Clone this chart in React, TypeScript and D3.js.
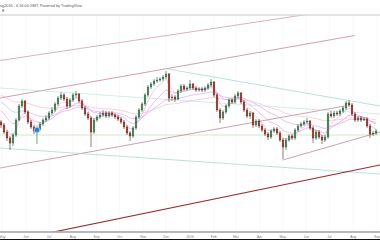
import React from 'react';
import * as d3 from 'd3';

const W = 380;
const H = 240;

// ---- data ----
const FIRST_OPEN = 1.078;
const CLOSE = [
  1.075, 1.068, 1.062, 1.057, 1.065, 1.080, 1.094, 1.099, 1.088, 1.078,
  1.073, 1.069, 1.071, 1.076, 1.080, 1.082, 1.087, 1.090, 1.096, 1.102,
  1.105, 1.101, 1.094, 1.100, 1.105, 1.106, 1.099, 1.092, 1.086, 1.082,
  1.068, 1.080, 1.083, 1.085, 1.087, 1.084, 1.087, 1.085, 1.083, 1.081,
  1.078, 1.073, 1.067, 1.064, 1.072, 1.083, 1.090, 1.096, 1.105, 1.113,
  1.116, 1.119, 1.120, 1.121, 1.123, 1.126, 1.102, 1.103, 1.101, 1.109,
  1.114, 1.111, 1.112, 1.116, 1.112, 1.110, 1.111, 1.110, 1.112, 1.115,
  1.118, 1.105, 1.090, 1.082, 1.088, 1.094, 1.100, 1.098, 1.104, 1.107,
  1.098, 1.090, 1.084, 1.087, 1.075, 1.079, 1.074, 1.070, 1.066, 1.063,
  1.069, 1.071, 1.067, 1.060, 1.053, 1.060, 1.064, 1.062, 1.070, 1.074,
  1.076, 1.078, 1.079, 1.072, 1.062, 1.068, 1.063, 1.060, 1.063, 1.086,
  1.084, 1.087, 1.086, 1.089, 1.092, 1.097, 1.095, 1.086, 1.080, 1.082,
  1.080, 1.081, 1.074, 1.066, 1.067, 1.069,
];
const HIGH = [
  1.080, 1.077, 1.070, 1.064, 1.067, 1.082, 1.096, 1.101, 1.100, 1.090,
  1.080, 1.075, 1.074, 1.078, 1.082, 1.085, 1.089, 1.093, 1.098, 1.104,
  1.108, 1.107, 1.103, 1.102, 1.107, 1.109, 1.107, 1.101, 1.094, 1.088,
  1.084, 1.082, 1.085, 1.088, 1.090, 1.089, 1.089, 1.089, 1.087, 1.085,
  1.083, 1.080, 1.075, 1.069, 1.074, 1.085, 1.092, 1.098, 1.107, 1.115,
  1.118, 1.121, 1.123, 1.123, 1.125, 1.129, 1.127, 1.106, 1.105, 1.111,
  1.116, 1.116, 1.114, 1.120, 1.117, 1.114, 1.113, 1.113, 1.114, 1.117,
  1.121, 1.119, 1.107, 1.092, 1.090, 1.096, 1.102, 1.102, 1.106, 1.109,
  1.108, 1.100, 1.092, 1.089, 1.088, 1.081, 1.081, 1.076, 1.072, 1.068,
  1.071, 1.073, 1.073, 1.069, 1.062, 1.062, 1.066, 1.066, 1.072, 1.076,
  1.078, 1.080, 1.082, 1.080, 1.074, 1.070, 1.070, 1.065, 1.065, 1.088,
  1.089, 1.089, 1.089, 1.091, 1.094, 1.099, 1.100, 1.097, 1.088, 1.084,
  1.084, 1.083, 1.083, 1.076, 1.069, 1.071,
];
const LOW = [
  1.072, 1.066, 1.059, 1.050, 1.054, 1.063, 1.079, 1.092, 1.086, 1.076,
  1.071, 1.066, 1.056, 1.069, 1.074, 1.078, 1.080, 1.085, 1.088, 1.094,
  1.100, 1.099, 1.091, 1.092, 1.098, 1.102, 1.097, 1.090, 1.084, 1.080,
  1.053, 1.066, 1.078, 1.081, 1.083, 1.082, 1.082, 1.083, 1.081, 1.079,
  1.076, 1.071, 1.065, 1.059, 1.062, 1.070, 1.081, 1.088, 1.094, 1.103,
  1.111, 1.114, 1.117, 1.118, 1.119, 1.121, 1.098, 1.099, 1.098, 1.100,
  1.107, 1.109, 1.109, 1.110, 1.110, 1.108, 1.108, 1.108, 1.108, 1.110,
  1.113, 1.103, 1.088, 1.077, 1.080, 1.086, 1.092, 1.096, 1.096, 1.102,
  1.096, 1.088, 1.082, 1.081, 1.072, 1.073, 1.072, 1.068, 1.064, 1.060,
  1.061, 1.067, 1.065, 1.058, 1.041, 1.050, 1.058, 1.060, 1.060, 1.068,
  1.072, 1.074, 1.076, 1.070, 1.057, 1.060, 1.061, 1.056, 1.058, 1.061,
  1.082, 1.082, 1.084, 1.084, 1.087, 1.090, 1.093, 1.084, 1.078, 1.078,
  1.078, 1.079, 1.072, 1.062, 1.064, 1.065,
];

const START_DATE = '2015-04-28';
const END_DATE = '2016-09-05';
const CANDLE_OFFSET_DAYS = 1.3;
const CANDLE_STEP_DAYS = 3.916;

const MONTH_TICKS = [
  '2015-05-01', '2015-06-01', '2015-07-01', '2015-08-01', '2015-09-01', '2015-10-01',
  '2015-11-01', '2015-12-01', '2016-01-01', '2016-02-01', '2016-03-01', '2016-04-01',
  '2016-05-01', '2016-06-01', '2016-07-01', '2016-08-01', '2016-09-01',
];
const MONTH_LABELS = [
  'May', 'Jun', 'Jul', 'Aug', 'Sep', 'Oct', 'Nov', 'Dec', '2016',
  'Feb', 'Mar', 'Apr', 'May', 'Jun', 'Jul', 'Aug', 'Sep',
];

// trend lines: [date, price] anchors
const CHANNEL_TOP = [['2015-04-28', 1.1395], ['2016-09-05', 1.1965]];
const CHANNEL_MID = [['2015-04-28', 1.102], ['2016-08-03', 1.1645]];
const CHANNEL_LOW = [['2015-04-28', 1.032], ['2016-07-21', 1.094]];
const SHORT_SUPPORT = [['2016-05-01', 1.040], ['2016-09-05', 1.068]];
const LONG_SUPPORT = [['2015-04-28', 0.957], ['2016-09-05', 1.035]];
const DOWN_TOP = [['2015-12-03', 1.131], ['2016-09-05', 1.094]];
const DOWN_UPPER = [['2015-04-28', 1.112], ['2016-09-05', 1.086]];
const DOWN_LOWER = [['2015-04-28', 1.052], ['2016-09-05', 1.026]];
const HORIZONTAL_LEVEL = 1.065;

const MA_PERIODS = [5, 12, 25, 50];
const MA_SEEDS = [1.080, 1.092, 1.100, 1.106];

const MARKER_INDEX = 12;
const MARKER_PRICE = 1.070;

const HEADER_TEXT = 'ug2016 - 6:16:00 GMT, Powered by TradingView';

// ---- component ----
const parse = d3.timeParse('%Y-%m-%d');
const FONT = 'Liberation Sans, Arial, sans-serif';

export default function App() {
  const x = d3.scaleTime().domain([parse(START_DATE)!, parse(END_DATE)!]).range([0, W]);
  const y = d3.scaleLinear().domain([0.968, 1.185]).range([232, 15]);
  const start = parse(START_DATE)!.getTime();

  const candles = CLOSE.map((c, i) => ({
    date: new Date(start + (CANDLE_OFFSET_DAYS + i * CANDLE_STEP_DAYS) * 864e5),
    open: i === 0 ? FIRST_OPEN : CLOSE[i - 1],
    close: c,
    high: HIGH[i],
    low: LOW[i],
  }));

  const mas = MA_PERIODS.map((n, k) => {
    const a = 2 / (n + 1);
    let v = MA_SEEDS[k];
    return candles.map((d) => {
      v = v + a * (d.close - v);
      return { date: d.date, v };
    });
  });
  const maLine = d3
    .line<{ date: Date; v: number }>()
    .x((d) => x(d.date))
    .y((d) => y(d.v))
    .curve(d3.curveMonotoneX);
  const maColors = ['#f2a2d6', '#e892e8', '#cfa6f2', '#f2b6cc'];

  const seg = (pts: (string | number)[][]) => ({
    x1: x(parse(pts[0][0] as string)!),
    y1: y(pts[0][1] as number),
    x2: x(parse(pts[1][0] as string)!),
    y2: y(pts[1][1] as number),
  });

  const trend = [
    { s: seg(CHANNEL_TOP), c: '#c4929c', w: 0.7 },
    { s: seg(CHANNEL_MID), c: '#b87884', w: 0.7 },
    { s: seg(CHANNEL_LOW), c: '#b87884', w: 0.7 },
    { s: seg(SHORT_SUPPORT), c: '#b87884', w: 0.7 },
    { s: seg(DOWN_TOP), c: '#9ad6ca', w: 0.7 },
    { s: seg(DOWN_UPPER), c: '#b0e0d6', w: 0.6 },
    { s: seg(DOWN_LOWER), c: '#9ad6ca', w: 0.7 },
  ];
  const thick = seg(LONG_SUPPORT);

  const cw = 1.7;

  return (
    <svg
      width={W}
      height={H}
      style={{ position: 'absolute', left: 0, top: 0, background: '#fff' }}
      fontFamily={FONT}
    >
      <defs>
        <clipPath id="plot">
          <rect x={0} y={15.5} width={W} height={216} />
        </clipPath>
      </defs>
      <rect x={0} y={0} width={W} height={H} fill="#fff" />

      {/* faint grid */}
      <g stroke="#f5f5f7" strokeWidth={0.6}>
        {MONTH_TICKS.map((t) => (
          <line key={t} x1={x(parse(t)!)} x2={x(parse(t)!)} y1={16} y2={231} />
        ))}
      </g>

      {/* header */}
      <text x={0} y={6.5} fontSize={4.2} fill="#555" textLength={82} lengthAdjust="spacingAndGlyphs">
        {HEADER_TEXT}
      </text>
      <text x={2} y={12} fontSize={4} fill="#333">8</text>
      <line x1={0} x2={W} y1={15} y2={15} stroke="#c8c8c8" strokeWidth={1} />

      <g clipPath="url(#plot)">
        {/* horizontal level */}
        <line x1={0} x2={W} y1={y(HORIZONTAL_LEVEL)} y2={y(HORIZONTAL_LEVEL)} stroke="#bfe6b8" strokeWidth={0.8} />
        {trend.map((t, i) => (
          <line key={i} {...t.s} stroke={t.c} strokeWidth={t.w} />
        ))}
        {/* moving averages */}
        {mas.map((m, i) => (
          <path key={i} d={maLine(m) || ''} fill="none" stroke={maColors[i]} strokeWidth={0.7} opacity={0.9} />
        ))}
        {/* candles */}
        {candles.map((d, i) => {
          const cx = x(d.date);
          const up = d.close >= d.open;
          const top = y(Math.max(d.open, d.close));
          const bot = y(Math.min(d.open, d.close));
          return (
            <g key={i}>
              <line x1={cx} x2={cx} y1={y(Math.max(d.high, d.open, d.close))} y2={y(Math.min(d.low, d.open, d.close))} stroke={up ? '#2c5a36' : '#5b2016'} strokeWidth={0.6} />
              <rect
                x={cx - cw / 2}
                y={top}
                width={cw}
                height={Math.max(0.7, bot - top)}
                fill={up ? '#4f9565' : '#b5473a'}
                stroke={up ? '#225437' : '#5b1a13'}
                strokeWidth={0.4}
              />
            </g>
          );
        })}
        {/* long support */}
        <line {...thick} stroke="#9a2a2a" strokeWidth={1.1} />
        {/* marker */}
        <circle cx={x(candles[MARKER_INDEX].date)} cy={y(MARKER_PRICE)} r={2.8} fill="#2e7fd6" stroke="#a9d4ff" strokeWidth={0.8} />
      </g>

      {/* bottom axis */}
      <line x1={0} x2={W} y1={232} y2={232} stroke="#a0a0a0" strokeWidth={1.6} />
      {MONTH_TICKS.map((t, i) => (
        <text key={t} x={x(parse(t)!)} y={237.6} fontSize={3.4} fill="#777" textAnchor="middle">
          {MONTH_LABELS[i]}
        </text>
      ))}
      <rect x={0} y={239} width={W} height={1} fill="#111" />
    </svg>
  );
}
